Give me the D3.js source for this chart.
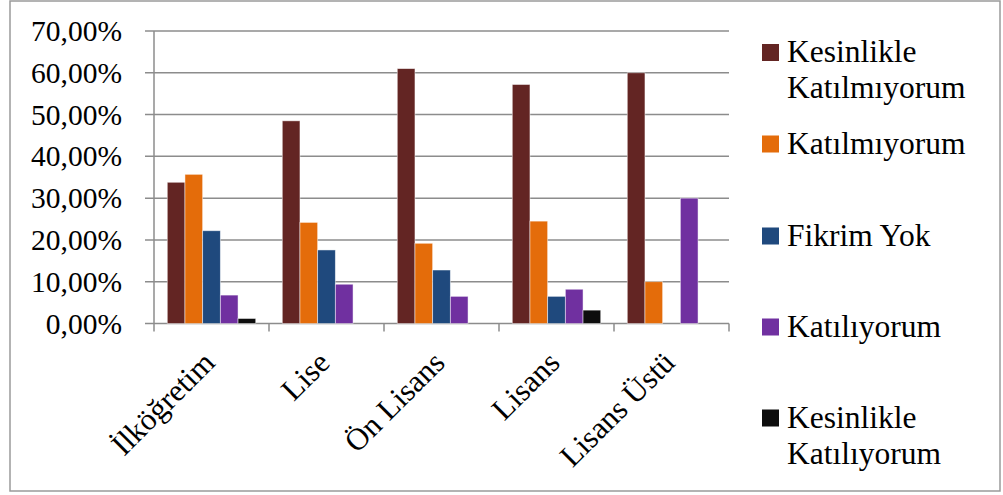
<!DOCTYPE html>
<html>
<head>
<meta charset="utf-8">
<script src="https://cdn.jsdelivr.net/npm/d3@7"></script>
<style>
  body { margin: 0; background: #fff; }
</style>
</head>
<body>
<svg id="chart" width="1003" height="495"></svg>
<script>
// categories on the x axis
var categories = ["İlköğretim", "Lise", "Ön Lisans", "Lisans", "Lisans Üstü"]

// one array per answer, in category order (percent)
var kesinlikleKatilmiyorum = [33.8, 48.5, 61.0, 57.2, 60.0]
var katilmiyorum = [35.7, 24.2, 19.2, 24.5, 10.0]
var fikrimYok = [22.2, 17.6, 12.8, 6.5, 0]
var katiliyorum = [6.8, 9.4, 6.5, 8.2, 30.0]
var kesinlikleKatiliyorum = [1.2, 0, 0, 3.2, 0]

var seriesNames = [["Kesinlikle", "Katılmıyorum"], ["Katılmıyorum"], ["Fikrim Yok"], ["Katılıyorum"], ["Kesinlikle", "Katılıyorum"]]
var seriesValues = [kesinlikleKatilmiyorum, katilmiyorum, fikrimYok, katiliyorum, kesinlikleKatiliyorum]
var colors = ["#632523", "#e46c0a", "#1f497d", "#7030a0", "#0d0d0d"]

var yTicks = [0, 10, 20, 30, 40, 50, 60, 70]

var font = "Liberation Serif"
var svg = d3.select("#chart")

// outer frame
svg.append("rect")
    .attr("x", 10).attr("y", 1)
    .attr("width", 990).attr("height", 490)
    .attr("fill", "none")
    .attr("stroke", "#9a9a9a")
    .attr("stroke-width", 1.5)

var plot = { left: 154, right: 729, top: 31, bottom: 323.5 }

var x = d3.scaleBand()
    .domain(categories)
    .range([plot.left, plot.right])

// Excel gap width 150% -> the 5 bars take 5 / 6.5 of each band
var inner = d3.scaleBand()
    .domain(d3.range(seriesValues.length))
    .range([x.bandwidth() * 0.75 / 6.5, x.bandwidth() * 5.75 / 6.5])

var y = d3.scaleLinear()
    .domain([0, 70])
    .range([plot.bottom, plot.top])

// gridlines
svg.append("g")
    .selectAll("line")
    .data(yTicks)
    .enter().append("line")
    .attr("x1", plot.left - 9)
    .attr("x2", plot.right)
    .attr("y1", d => y(d))
    .attr("y2", d => y(d))
    .attr("stroke", "#8c8c8c")
    .attr("stroke-width", 1.5)

// y axis line
svg.append("line")
    .attr("x1", plot.left).attr("x2", plot.left)
    .attr("y1", plot.top).attr("y2", plot.bottom + 8)
    .attr("stroke", "#8c8c8c")
    .attr("stroke-width", 1.5)

// category ticks
svg.append("g")
    .selectAll("line")
    .data(categories)
    .enter().append("line")
    .attr("x1", d => x(d) + x.bandwidth())
    .attr("x2", d => x(d) + x.bandwidth())
    .attr("y1", plot.bottom)
    .attr("y2", plot.bottom + 8)
    .attr("stroke", "#8c8c8c")
    .attr("stroke-width", 1.5)

// y labels
svg.append("g")
    .selectAll("text")
    .data(yTicks)
    .enter().append("text")
    .attr("x", 122)
    .attr("y", d => y(d))
    .attr("dy", "0.34em")
    .attr("text-anchor", "end")
    .attr("font-family", font)
    .style("font-size", "29.5px")
    .text(d => d3.format(".2f")(d).replace(".", ",") + "%")

// bars
var groups = svg.append("g")
    .selectAll("g")
    .data(seriesValues)
    .enter().append("g")
    .attr("fill", (d, i) => colors[i])

groups.selectAll("rect")
    .data((d, i) => d.map((v, j) => ({ s: i, c: categories[j], v: v })))
    .enter().append("rect")
    .filter(d => d.v > 0)
    .attr("x", d => x(d.c) + inner(d.s))
    .attr("y", d => y(d.v))
    .attr("width", inner.bandwidth())
    .attr("height", d => y(0) - y(d.v))
    .attr("stroke", "#ffffff")
    .attr("stroke-opacity", 0.6)
    .attr("stroke-width", 0.8)

// x labels, rotated
svg.append("g")
    .selectAll("text")
    .data(categories)
    .enter().append("text")
    .attr("text-anchor", "end")
    .attr("font-family", font)
    .attr("transform", d => "translate(" + (x(d) + x.bandwidth() / 2 + 5) + "," + (plot.bottom + 41) + ") rotate(-45)")
    .style("font-size", "31px")
    .text(d => d)

// legend
var legendY = [52.5, 144, 236, 327, 418]
var legend = svg.append("g")
    .selectAll("g")
    .data(seriesNames)
    .enter().append("g")
    .attr("transform", (d, i) => "translate(762," + legendY[i] + ")")

legend.append("rect")
    .attr("x", 0).attr("y", -8.5)
    .attr("width", 17).attr("height", 17)
    .attr("fill", (d, i) => colors[i])

// one text per line so every label keeps the serif face
legend.selectAll("text")
    .data(d => d)
    .enter().append("text")
    .attr("x", 25)
    .attr("y", (d, i) => 9.5 + i * 36)
    .attr("font-family", font)
    .style("font-size", "31.5px")
    .text(d => d)
</script>
</body>
</html>
